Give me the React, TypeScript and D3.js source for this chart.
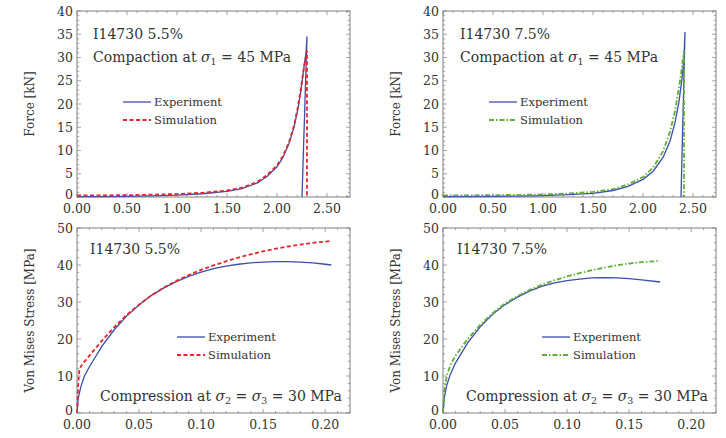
import React from "react";
import * as d3 from "d3";

// compaction: displacement [mm] vs force [kN]
const exp55F = [
  [0, 0.1], [0.25, 0.1], [0.5, 0.15], [0.75, 0.25], [1.0, 0.4], [1.25, 0.7], [1.5, 1.2],
  [1.65, 1.8], [1.8, 3.0], [1.9, 4.4], [2.0, 6.5], [2.06, 8.5], [2.12, 11.5], [2.17, 15],
  [2.21, 19], [2.24, 23], [2.27, 28], [2.29, 31], [2.3, 34.5], [2.25, 0],
];
const sim55F = [
  [0, 0.35], [0.25, 0.35], [0.5, 0.4], [0.75, 0.5], [1.0, 0.65], [1.25, 0.9], [1.5, 1.4],
  [1.65, 2.0], [1.8, 3.2], [1.9, 4.7], [2.0, 6.8], [2.06, 8.8], [2.12, 11.8], [2.17, 15.3],
  [2.21, 19.5], [2.24, 23.5], [2.27, 28], [2.3, 31.5], [2.3, 0],
];
const exp75F = [
  [0, 0.1], [0.25, 0.1], [0.5, 0.15], [0.75, 0.2], [1.0, 0.3], [1.25, 0.5], [1.5, 0.8],
  [1.7, 1.4], [1.85, 2.3], [2.0, 3.8], [2.1, 5.5], [2.2, 8.5], [2.27, 12], [2.32, 16],
  [2.36, 20.5], [2.39, 25.5], [2.41, 30], [2.42, 35.5], [2.38, 0],
];
const sim75F = [
  [0, 0.35], [0.25, 0.35], [0.5, 0.4], [0.75, 0.45], [1.0, 0.55], [1.25, 0.75], [1.5, 1.1],
  [1.7, 1.7], [1.85, 2.7], [2.0, 4.3], [2.1, 6.3], [2.2, 9.8], [2.27, 14], [2.32, 18.5],
  [2.36, 23.5], [2.39, 28], [2.41, 31.5], [2.41, 0],
];

// compression: strain vs von Mises stress [MPa]
const exp55S = [
  [0, 0], [0.001, 4], [0.003, 7], [0.006, 10], [0.01, 12.5], [0.02, 18], [0.03, 22.5],
  [0.04, 26.2], [0.05, 29.2], [0.06, 31.8], [0.07, 33.8], [0.08, 35.5], [0.09, 36.9],
  [0.1, 38.1], [0.11, 39], [0.12, 39.7], [0.13, 40.2], [0.14, 40.6], [0.15, 40.8],
  [0.16, 40.9], [0.17, 40.9], [0.18, 40.8], [0.19, 40.6], [0.2, 40.2], [0.205, 40.0],
];
const sim55S = [
  [0, 0], [0.001, 8], [0.002, 12], [0.005, 13.5], [0.01, 15.5], [0.02, 19.5], [0.03, 23.2],
  [0.04, 26.5], [0.05, 29.3], [0.06, 31.8], [0.07, 33.9], [0.08, 35.7], [0.09, 37.3],
  [0.1, 38.7], [0.11, 39.9], [0.12, 41], [0.13, 42], [0.14, 42.9], [0.15, 43.7],
  [0.16, 44.4], [0.17, 45], [0.18, 45.5], [0.19, 46], [0.205, 46.5],
];
const exp75S = [
  [0, 0], [0.001, 4], [0.003, 7.5], [0.006, 10.5], [0.01, 13.5], [0.02, 19], [0.03, 23.3],
  [0.04, 26.7], [0.05, 29.3], [0.06, 31.3], [0.07, 33], [0.08, 34.3], [0.09, 35.2],
  [0.1, 35.8], [0.11, 36.2], [0.12, 36.5], [0.13, 36.6], [0.14, 36.5], [0.15, 36.3],
  [0.16, 36], [0.175, 35.4],
];
const sim75S = [
  [0, 0], [0.001, 6], [0.003, 10], [0.006, 13], [0.01, 15.5], [0.02, 20], [0.03, 23.8],
  [0.04, 27], [0.05, 29.6], [0.06, 31.6], [0.07, 33.3], [0.08, 34.7], [0.09, 35.9],
  [0.1, 36.9], [0.11, 37.8], [0.12, 38.6], [0.13, 39.3], [0.14, 39.9], [0.15, 40.4],
  [0.16, 40.8], [0.175, 41.1],
];

const forceXTicks = [0, 0.5, 1.0, 1.5, 2.0, 2.5];
const forceYTicks = [0, 5, 10, 15, 20, 25, 30, 35, 40];
const stressXTicks = [0, 0.05, 0.1, 0.15, 0.2];
const stressYTicks = [0, 10, 20, 30, 40, 50];
const legendLabels = ["Experiment", "Simulation"];

const BLUE = "#3b4fa6";
const RED = "#e3262d";
const GREEN = "#62ad3a";
const GRAY = "#808080";
const TEXT = "#333";
const FONT = "DejaVu Serif";

type Pt = number[];

function Panel(props: any) {
  const { x0, y0, w, h, xMax, yMax, xTicks, yTicks, xMinor, yMinor, xFmt, exp, sim,
    simColor, simDash, yLabel, legendX, legendY, children } = props;
  const x = d3.scaleLinear().domain([0, xMax]).range([x0, x0 + w]);
  const y = d3.scaleLinear().domain([0, yMax]).range([y0 + h, y0]);
  const line = d3.line<Pt>().x((d) => x(d[0])).y((d) => y(d[1]));
  const xm = d3.range(0, xMax + 1e-9, xMinor);
  const ym = d3.range(0, yMax + 1e-9, yMinor);
  const isMajor = (v: number, ticks: number[]) => ticks.some((t) => Math.abs(t - v) < 1e-9);
  return (
    <g>
      <rect x={x0} y={y0} width={w} height={h} fill="white" stroke={GRAY} strokeWidth={1} />
      <path d={line(exp) || ""} fill="none" stroke={BLUE} strokeWidth={1.3} />
      <path d={line(sim) || ""} fill="none" stroke={simColor} strokeWidth={1.8} strokeDasharray={simDash} />
      {xm.map((v: number, i: number) => {
        const L = isMajor(v, xTicks) ? 4 : 2.2;
        return (
          <g key={"xm" + i} stroke={GRAY} strokeWidth={0.7}>
            <line x1={x(v)} x2={x(v)} y1={y0 + h} y2={y0 + h - L} />
            <line x1={x(v)} x2={x(v)} y1={y0} y2={y0 + L} />
          </g>
        );
      })}
      {ym.map((v: number, i: number) => {
        const L = isMajor(v, yTicks) ? 4 : 2.2;
        return (
          <g key={"ym" + i} stroke={GRAY} strokeWidth={0.7}>
            <line x1={x0} x2={x0 + L} y1={y(v)} y2={y(v)} />
            <line x1={x0 + w} x2={x0 + w - L} y1={y(v)} y2={y(v)} />
          </g>
        );
      })}
      {xTicks.map((v: number) => (
        <text key={"xt" + v} x={x(v)} y={y0 + h + 16} textAnchor="middle" fontSize={12.5} fill={TEXT}>
          {xFmt(v)}
        </text>
      ))}
      {yTicks.map((v: number) => (
        <text key={"yt" + v} x={x0 - 4} y={y(v) + (v === 0 ? 2 : 4.5)} textAnchor="end" fontSize={12.5} fill={TEXT}>
          {v}
        </text>
      ))}
      <text transform={`translate(${x0 - 43},${y0 + h / 2}) rotate(-90)`} textAnchor="middle" fontSize={12} fill={TEXT}>
        {yLabel}
      </text>
      {legendLabels.map((lab, i) => (
        <g key={lab}>
          <line x1={legendX} x2={legendX + 28} y1={legendY + i * 18} y2={legendY + i * 18}
            stroke={i === 0 ? BLUE : simColor} strokeWidth={i === 0 ? 1.3 : 1.8}
            strokeDasharray={i === 0 ? undefined : simDash} />
          <text x={legendX + 31} y={legendY + i * 18 + 4} fontSize={11.5} fill={TEXT}>{lab}</text>
        </g>
      ))}
      {children}
    </g>
  );
}

const sub = (s: string) => <tspan fontSize={9.5} dy={3}>{s}</tspan>;

export default function App() {
  const W = 273;
  const fmt2 = (v: number) => v.toFixed(2);
  return (
    <svg width={726} height={438} fontFamily={FONT}
      style={{ position: "absolute", left: 0, top: 0, background: "white" }}>
      <Panel x0={77} y0={11} w={W} h={186} xMax={2.73} yMax={40} xTicks={forceXTicks} yTicks={forceYTicks}
        xMinor={0.1} yMinor={1} xFmt={fmt2} exp={exp55F} sim={sim55F} simColor={RED} simDash="4 2.5"
        yLabel="Force [kN]" legendX={123} legendY={102}>
        <text x={93} y={39} fontSize={14} fill={TEXT}>I14730 5.5%</text>
        <text x={93} y={62} fontSize={14} fill={TEXT}>
          Compaction at <tspan fontStyle="italic">σ</tspan>{sub("1")}<tspan dy={-3}> = 45 MPa</tspan>
        </text>
      </Panel>
      <Panel x0={443} y0={11} w={W} h={186} xMax={2.73} yMax={40} xTicks={forceXTicks} yTicks={forceYTicks}
        xMinor={0.1} yMinor={1} xFmt={fmt2} exp={exp75F} sim={sim75F} simColor={GREEN} simDash="5 2 1.5 2"
        yLabel="Force [kN]" legendX={489} legendY={102}>
        <text x={460} y={39} fontSize={14} fill={TEXT}>I14730 7.5%</text>
        <text x={460} y={62} fontSize={14} fill={TEXT}>
          Compaction at <tspan fontStyle="italic">σ</tspan>{sub("1")}<tspan dy={-3}> = 45 MPa</tspan>
        </text>
      </Panel>
      <Panel x0={77} y0={228} w={W} h={185} xMax={0.22} yMax={50} xTicks={stressXTicks} yTicks={stressYTicks}
        xMinor={0.01} yMinor={2} xFmt={fmt2} exp={exp55S} sim={sim55S} simColor={RED} simDash="4 2.5"
        yLabel="Von Mises Stress [MPa]" legendX={177} legendY={337}>
        <text x={90} y={254} fontSize={14} fill={TEXT}>I14730 5.5%</text>
        <text x={100} y={401} fontSize={14} fill={TEXT}>
          Compression at <tspan fontStyle="italic">σ</tspan>{sub("2")}<tspan dy={-3}> = </tspan>
          <tspan fontStyle="italic">σ</tspan>{sub("3")}<tspan dy={-3}> = 30 MPa</tspan>
        </text>
      </Panel>
      <Panel x0={443} y0={228} w={W} h={185} xMax={0.22} yMax={50} xTicks={stressXTicks} yTicks={stressYTicks}
        xMinor={0.01} yMinor={2} xFmt={fmt2} exp={exp75S} sim={sim75S} simColor={GREEN} simDash="5 2 1.5 2"
        yLabel="Von Mises Stress [MPa]" legendX={542} legendY={337}>
        <text x={457} y={254} fontSize={14} fill={TEXT}>I14730 7.5%</text>
        <text x={466} y={401} fontSize={14} fill={TEXT}>
          Compression at <tspan fontStyle="italic">σ</tspan>{sub("2")}<tspan dy={-3}> = </tspan>
          <tspan fontStyle="italic">σ</tspan>{sub("3")}<tspan dy={-3}> = 30 MPa</tspan>
        </text>
      </Panel>
    </svg>
  );
}
